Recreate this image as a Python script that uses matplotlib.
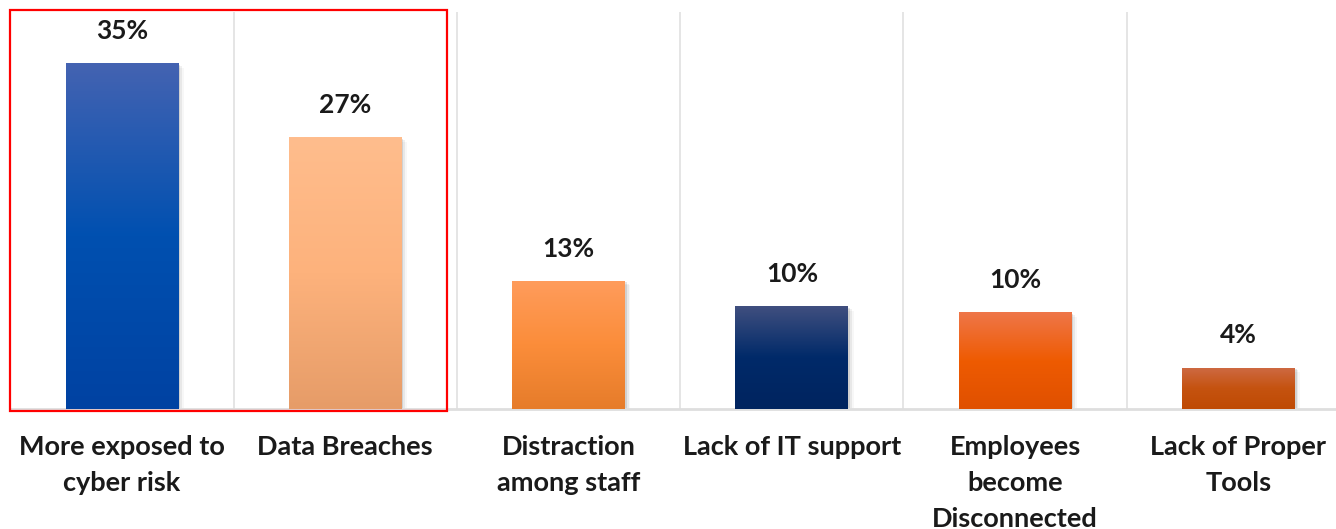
import numpy as np
import matplotlib.pyplot as plt
from matplotlib.patches import Rectangle
from matplotlib.colors import LinearSegmentedColormap

categories = ['More exposed to\ncyber risk', 'Data Breaches', 'Distraction\namong staff',
              'Lack of IT support', 'Employees\nbecome\nDisconnected', 'Lack of Proper\nTools']
values = [35, 27.5, 13, 10.4, 9.8, 4.2]
labels = ['35%', '27%', '13%', '10%', '10%', '4%']
# gradient colours top -> middle -> bottom
grads = [
    ['#4463b2', '#0050b0', '#0042a2'],
    ['#ffbd8d', '#fdb27c', '#e69c68'],
    ['#ff9c5c', '#fb8d3a', '#e67c2a'],
    ['#404f7f', '#002a69', '#00245f'],
    ['#ef7649', '#ee5b02', '#e05000'],
    ['#ce6a44', '#c55310', '#bf4a04'],
]

W, H = 1336, 529
fig = plt.figure(figsize=(W / 100, H / 100), dpi=100)
# axis runs a little past the right edge like in the source
ax = fig.add_axes([10.4 / W, (H - 409) / H, (1350 - 10.4) / W, (409 - 12) / H])
ax.set_xlim(-0.5, len(categories) - 0.5)
ax.set_ylim(0, 40.2)

font = 'Lato'
x = np.arange(len(categories))
bw = 0.505
bars = ax.bar(x, values, width=bw, color='none', zorder=3)

for i, (b, g) in enumerate(zip(bars, grads)):
    # soft shadow
    for k, a in enumerate([0.10, 0.06, 0.03]):
        sh = Rectangle((b.get_x() + 0.004 * (k + 1), 0), bw + 0.004 * (k + 1), b.get_height() - 0.15 * (k + 1),
                       facecolor='black', alpha=a, edgecolor='none', zorder=2)
        ax.add_patch(sh)
    cmap = LinearSegmentedColormap.from_list('g%d' % i, g[::-1])
    grad = np.linspace(0, 1, 256).reshape(-1, 1)
    im = ax.imshow(grad, cmap=cmap, aspect='auto', origin='lower',
                   extent=[b.get_x(), b.get_x() + bw, 0, b.get_height()], zorder=3)
    im.set_clip_path(b)
    ax.text(b.get_x() + bw / 2, b.get_height() + 3.25, labels[i], ha='center', va='center',
            fontsize=19, fontweight='bold', family=font, color='#1a1a1a')

# vertical separators
for xv in np.arange(0.5, len(categories) - 0.5, 1):
    ax.axvline(xv, color='#e3e3e3', lw=1.3, zorder=1)

ax.set_xticks(x)
ax.set_xticklabels(categories, fontsize=19.5, fontweight='bold', family=font, color='#1a1a1a',
                   linespacing=1.6)
ax.tick_params(axis='x', length=0, pad=19)
ax.set_yticks([])
for s in ['top', 'left', 'right']:
    ax.spines[s].set_visible(False)
ax.spines['bottom'].set_color('#dedede')
ax.spines['bottom'].set_linewidth(2)

# red highlight box around first two categories
fig.add_artist(Rectangle((10 / W, (H - 411) / H), 437 / W, 401 / H, transform=fig.transFigure,
                         fill=False, edgecolor='#ff0000', lw=1.6, zorder=10))

fig.savefig('out.png', dpi=100)
